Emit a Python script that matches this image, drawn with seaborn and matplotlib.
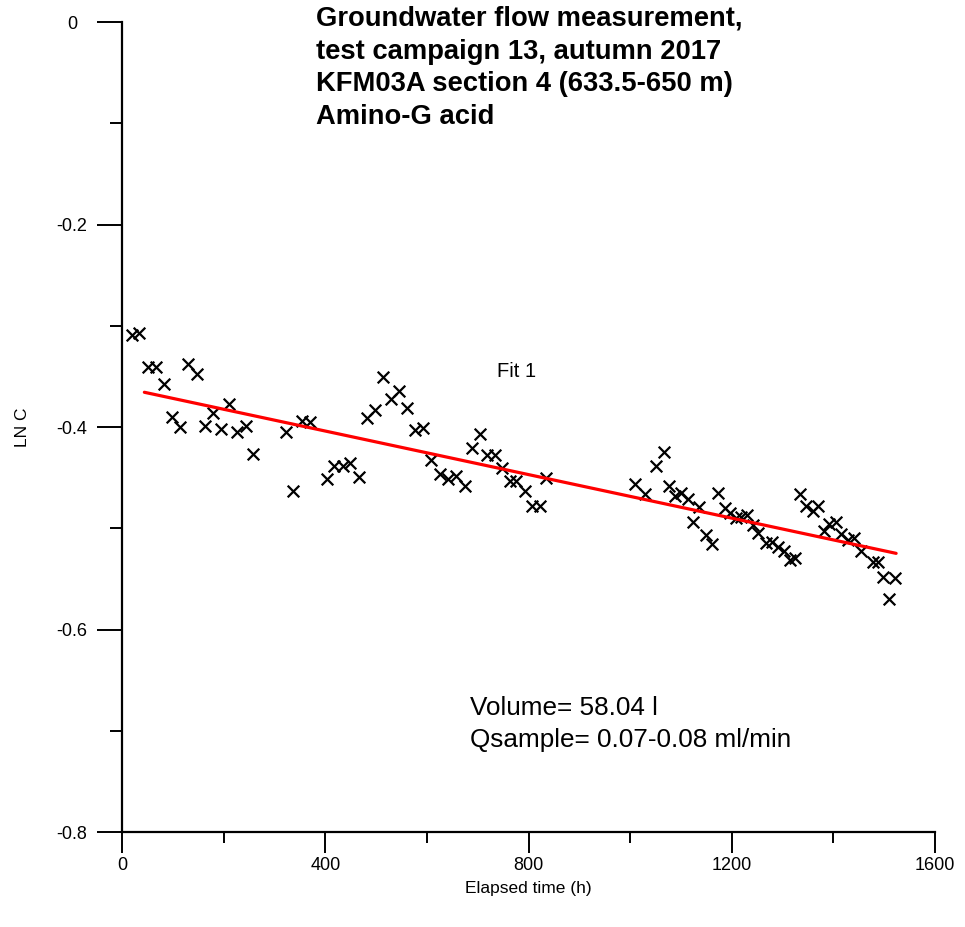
import numpy as np
import pandas as pd
import matplotlib
matplotlib.use("Agg")
import matplotlib.pyplot as plt
import seaborn as sns

# Elapsed time (h) and LN C of the Amino-G acid samples
elapsed_h = [20.2, 33.9, 51.7, 66.8, 83.2, 98.9, 114.0, 130.4, 146.9, 163.2,
             178.4, 194.1, 210.4, 226.7, 243.3, 258.2, 321.9, 336.8, 353.3, 369.7,
             402.5, 417.5, 434.0, 448.4, 466.1, 481.2, 497.5, 513.9, 529.0, 545.3,
             561.1, 576.2, 592.5, 609.0, 625.3, 641.6, 658.1, 674.5, 688.3, 704.0,
             718.7, 733.5, 748.6, 763.0, 776.2, 792.5, 807.7, 822.0, 835.2,
             1008.8, 1028.5, 1051.5, 1066.0, 1076.4, 1087.6, 1100.7, 1113.7, 1123.5, 1135.3,
             1149.9, 1160.3, 1172.6, 1185.8, 1197.0, 1208.8, 1218.7, 1229.7, 1241.5, 1252.3,
             1266.5, 1279.7, 1291.7, 1301.9, 1313.7, 1323.6, 1334.7, 1346.5, 1359.5, 1370.7,
             1381.6, 1392.3, 1405.5, 1415.9, 1428.3, 1441.5, 1455.3, 1477.5, 1487.3, 1498.5,
             1508.9, 1522.1]
ln_c = [-0.309, -0.307, -0.341, -0.341, -0.358, -0.390, -0.400, -0.338, -0.348, -0.399,
        -0.386, -0.402, -0.377, -0.405, -0.399, -0.427, -0.405, -0.463, -0.394, -0.395,
        -0.451, -0.439, -0.439, -0.436, -0.449, -0.391, -0.383, -0.351, -0.372, -0.364,
        -0.381, -0.403, -0.401, -0.433, -0.446, -0.451, -0.448, -0.458, -0.421, -0.407,
        -0.428, -0.428, -0.440, -0.453, -0.453, -0.463, -0.478, -0.478, -0.450,
        -0.456, -0.466, -0.439, -0.425, -0.458, -0.468, -0.465, -0.471, -0.494, -0.479,
        -0.507, -0.516, -0.465, -0.480, -0.485, -0.490, -0.489, -0.487, -0.497, -0.505,
        -0.515, -0.514, -0.519, -0.522, -0.531, -0.529, -0.466, -0.478, -0.483, -0.478,
        -0.503, -0.496, -0.494, -0.506, -0.512, -0.510, -0.522, -0.533, -0.533, -0.548,
        -0.570, -0.549]

# Fitted line (Fit 1) end points
fit_x = [44.0, 1523.5]
fit_y = [-0.3657, -0.5248]

x_ticks = [0, 400, 800, 1200, 1600]
x_tick_labels = ["0", "400", "800", "1200", "1600"]
y_ticks = [0, -0.2, -0.4, -0.6, -0.8]
y_tick_labels = ["0", "-0.2", "-0.4", "-0.6", "-0.8"]

title_lines = ["Groundwater flow measurement,",
               "test campaign 13, autumn 2017",
               "KFM03A section 4 (633.5-650 m)",
               "Amino-G acid"]
notes = ["Volume= 58.04 l", "Qsample= 0.07-0.08 ml/min"]

sns.set_theme(style="white")
plt.rcParams["font.family"] = ["Liberation Sans", "DejaVu Sans"]
plt.rcParams["axes.unicode_minus"] = False
for key in ("text.color", "axes.labelcolor", "xtick.color", "ytick.color"):
    plt.rcParams[key] = "black"

fig = plt.figure(figsize=(9.65, 9.27), dpi=100)
ax = fig.add_axes([122 / 965, 1 - 832 / 927, (935 - 122) / 965, (832 - 22) / 927])

samples = pd.DataFrame({"t": elapsed_h, "lnc": ln_c})
sns.scatterplot(data=samples, x="t", y="lnc", marker="x", color="black",
                s=70, linewidth=1.6, ax=ax, zorder=3, clip_on=False)
sns.lineplot(x=fit_x, y=fit_y, color="#ff0000", linewidth=2.3, ax=ax,
             zorder=4, estimator=None, sort=False)

ax.set_xlim(0, 1600)
ax.set_ylim(-0.8, 0)
ax.set_xticks(x_ticks)
ax.set_xticklabels(x_tick_labels)
ax.set_yticks(y_ticks)
ax.set_yticklabels(y_tick_labels)
ax.set_xticks([200, 600, 1000, 1400], minor=True)
ax.set_yticks([-0.1, -0.3, -0.5, -0.7], minor=True)

for side in ("top", "right"):
    ax.spines[side].set_visible(False)
for side in ("left", "bottom"):
    ax.spines[side].set_color("black")
    ax.spines[side].set_linewidth(1.6)

# y axis: long ticks, labels centred in the margin
ax.tick_params(axis="y", which="major", direction="out", length=18, width=1.4,
               labelsize=13, pad=18, left=True)
ax.tick_params(axis="y", which="minor", direction="out", length=9, width=1.4, left=True)
for lab in ax.get_yticklabels():
    lab.set_horizontalalignment("center")

# x axis
ax.tick_params(axis="x", which="major", direction="out", length=15, width=1.4,
               labelsize=13, pad=3, bottom=True)
ax.tick_params(axis="x", which="minor", direction="out", length=8, width=1.4, bottom=True)

ax.set_xlabel("Elapsed time (h)", fontsize=12.5, labelpad=5)
ax.set_ylabel("LN C", fontsize=12.5, labelpad=19)

ax.text(777, -0.345, "Fit 1", fontsize=14.5, ha="center", va="center")
ax.text(684, -0.6775, notes[0], fontsize=18.8, ha="left", va="center")
ax.text(684, -0.7090, notes[1], fontsize=18.8, ha="left", va="center")

fig.text(316 / 965, 1 - 6 / 927, "\n".join(title_lines), fontsize=19.7,
         fontweight="bold", ha="left", va="top", linespacing=1.33)

fig.savefig("out.png", dpi=100, facecolor="white")
